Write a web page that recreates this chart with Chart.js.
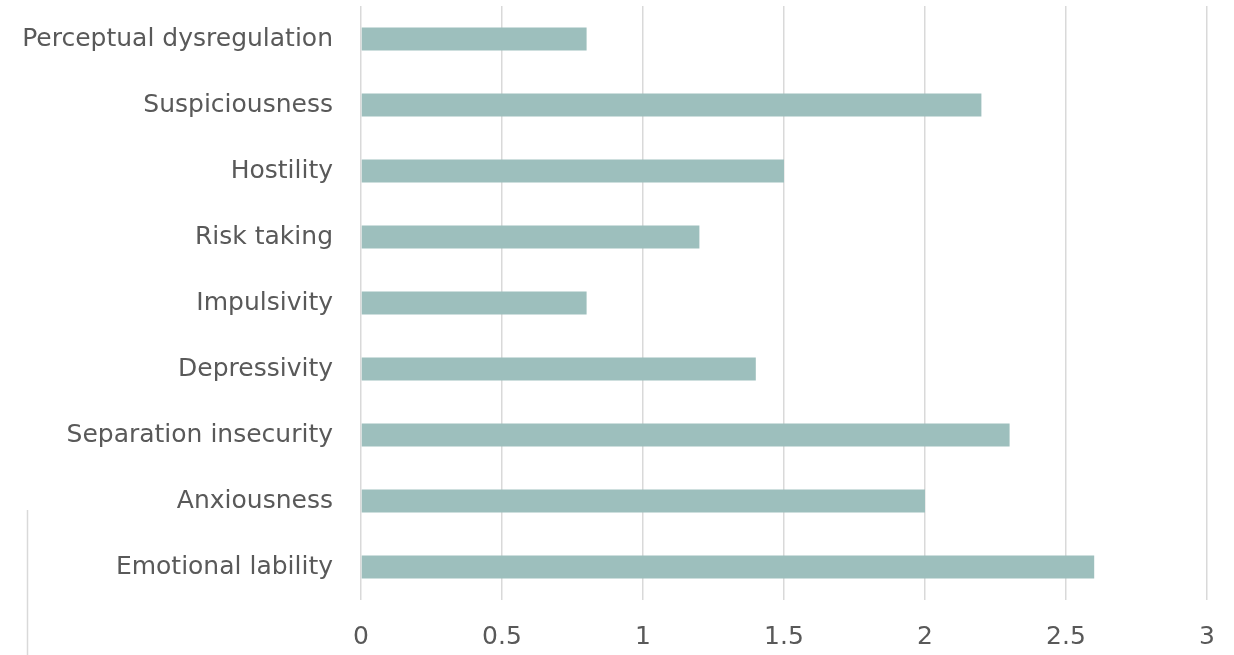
<!DOCTYPE html>
<html>
<head>
<meta charset="utf-8">
<script src="https://cdn.jsdelivr.net/npm/chart.js@4"></script>
<style>
  html, body { margin: 0; padding: 0; background: #fff; }
  #wrap { width: 1234px; height: 655px; }
</style>
</head>
<body>
<div id="wrap"><canvas id="barChart" width="1234" height="655"></canvas></div>
<script>
const facetas = [
  "Perceptual dysregulation",
  "Suspiciousness",
  "Hostility",
  "Risk taking",
  "Impulsivity",
  "Depressivity",
  "Separation insecurity",
  "Anxiousness",
  "Emotional lability",
];
const valores = [0.8, 2.2, 1.5, 1.2, 0.8, 1.4, 2.3, 2.0, 2.6];
const escalaX = [0, 0.5, 1, 1.5, 2, 2.5, 3];

const fonte = "'DejaVu Sans', sans-serif";

// linha cinza solta no canto inferior esquerdo
const linhaLateral = {
  id: "linhaLateral",
  afterDraw(chart) {
    const ctx = chart.ctx;
    ctx.save();
    ctx.strokeStyle = "#d9d9d9";
    ctx.lineWidth = 1.5;
    ctx.beginPath();
    ctx.moveTo(27.5, 510);
    ctx.lineTo(27.5, 655);
    ctx.stroke();
    ctx.restore();
  },
};

const config = {
  type: "bar",
  data: {
    labels: facetas,
    datasets: [
      {
        data: valores,
        backgroundColor: "#9dbfbd",
        borderWidth: 0,
        barPercentage: 0.35,
        categoryPercentage: 1,
      },
    ],
  },
  options: {
    indexAxis: "y",
    responsive: false,
    animation: false,
    layout: { padding: { top: 6, right: 27, left: 0, bottom: 0 } },
    scales: {
      x: {
        min: escalaX[0],
        max: escalaX[escalaX.length - 1],
        afterBuildTicks(scale) {
          scale.ticks = escalaX.map((v) => ({ value: v }));
        },
        afterFit(scale) {
          scale.height = 55;
          scale.paddingLeft = 0;
          scale.paddingRight = 0;
        },
        grid: { color: "#d9d9d9", lineWidth: 1.5, drawTicks: false },
        border: { display: false },
        ticks: {
          color: "#595959",
          padding: 22,
          font: { family: fonte, size: 25 },
          maxRotation: 0,
          callback: (v) => String(v),
        },
      },
      y: {
        afterFit(scale) {
          scale.width = 361;
          scale.paddingTop = 0;
          scale.paddingBottom = 0;
        },
        grid: { display: false, drawTicks: false },
        border: { display: false },
        ticks: {
          color: "#595959",
          padding: 28,
          font: { family: fonte, size: 25 },
        },
      },
    },
    plugins: {
      legend: { display: false },
      tooltip: { enabled: false },
    },
  },
  plugins: [linhaLateral],
};

new Chart(document.getElementById("barChart"), config);
</script>
</body>
</html>
